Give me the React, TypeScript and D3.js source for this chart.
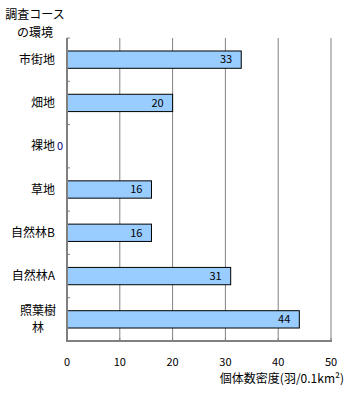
import React from "react";
import * as d3 from "d3";

const categories = ["市街地", "畑地", "裸地", "草地", "自然林B", "自然林A", "照葉樹林"];
const categoryLines = [["市街地"], ["畑地"], ["裸地"], ["草地"], ["自然林B"], ["自然林A"], ["照葉樹", "林"]];
const values = [33, 20, 0, 16, 16, 31, 44];
const xTicks = [0, 10, 20, 30, 40, 50];
const yTitle = ["調査コース", "の環境"];
const xTitle = "個体数密度(羽/0.1km²)";

const W = 355, H = 393;
const left = 67, right = 331, top = 38, bottom = 341;
const font = "'Noto Sans CJK JP', sans-serif";

export default function App() {
  const x = d3.scaleLinear().domain([0, 50]).range([left, right]);
  const y = d3.scaleBand<string>().domain(categories).range([top, bottom]).paddingInner(0.6).paddingOuter(0.3);
  const band = d3.scaleBand<string>().domain(categories).range([top, bottom]);
  const step = band.step();

  return (
    <svg width={W} height={H} style={{ position: "absolute", left: 0, top: 0, background: "#fff" }} fontFamily={font}>
      {/* grid */}
      {xTicks.slice(1).map((t) => (
        <line key={t} x1={x(t)} x2={x(t)} y1={top} y2={bottom} stroke="#808080" strokeWidth={1} />
      ))}
      {/* bars */}
      {categories.map((c, i) => (
        values[i] > 0 ? (
          <rect key={c} x={x(0)} y={y(c)!} width={x(values[i]) - x(0)} height={y.bandwidth()} fill="#99CCFF" stroke="#000" strokeWidth={1} />
        ) : null
      ))}
      {/* axes */}
      <line x1={left} x2={left} y1={top} y2={bottom + 1} stroke="#808080" strokeWidth={2} />
      <line x1={left} x2={right + 1} y1={bottom} y2={bottom} stroke="#808080" strokeWidth={2} />
      {d3.range(categories.length + 1).map((k) => (
        <line key={k} x1={left} x2={left + 3} y1={top + k * step} y2={top + k * step} stroke="#808080" strokeWidth={1} />
      ))}
      {xTicks.map((t) => (
        <line key={t} x1={x(t)} x2={x(t)} y1={bottom} y2={bottom - 3} stroke="#808080" strokeWidth={1} />
      ))}
      {/* value labels */}
      {categories.map((c, i) => (
        <text key={c} x={x(values[i]) - (values[i] > 0 ? 9 : 4)} y={y(c)! + y.bandwidth() / 2} dy="0.35em" textAnchor="end" fontSize={11} fill={values[i] > 0 ? "#000" : "#000080"}>
          {values[i]}
        </text>
      ))}
      {/* category labels */}
      {categories.map((c, i) => {
        const lines = categoryLines[i];
        const cy = band(c)! + step / 2;
        const lh = 17;
        return (
          <text key={c} x={lines.length > 1 ? 38 : 55} textAnchor={lines.length > 1 ? "middle" : "end"} fontSize={12} fill="#000">
            {lines.map((l, j) => (
              <tspan key={j} x={lines.length > 1 ? 38 : 55} y={cy + (j - (lines.length - 1) / 2) * lh} dy="0.35em">{l}</tspan>
            ))}
          </text>
        );
      })}
      {/* x tick labels */}
      {xTicks.map((t) => (
        <text key={t} x={x(t)} y={362} dy="0.35em" textAnchor="middle" fontSize={11} fill="#000">{t}</text>
      ))}
      {/* titles */}
      <text x={35} fontSize={12} textAnchor="middle" fill="#000">
        <tspan x={35} y={15} dy="0.35em">{yTitle[0]}</tspan>
        <tspan x={35} y={33} dy="0.35em">{yTitle[1]}</tspan>
      </text>
      <text x={344} y={379} dy="0.35em" textAnchor="end" fontSize={12} fill="#000">{xTitle}</text>
    </svg>
  );
}
